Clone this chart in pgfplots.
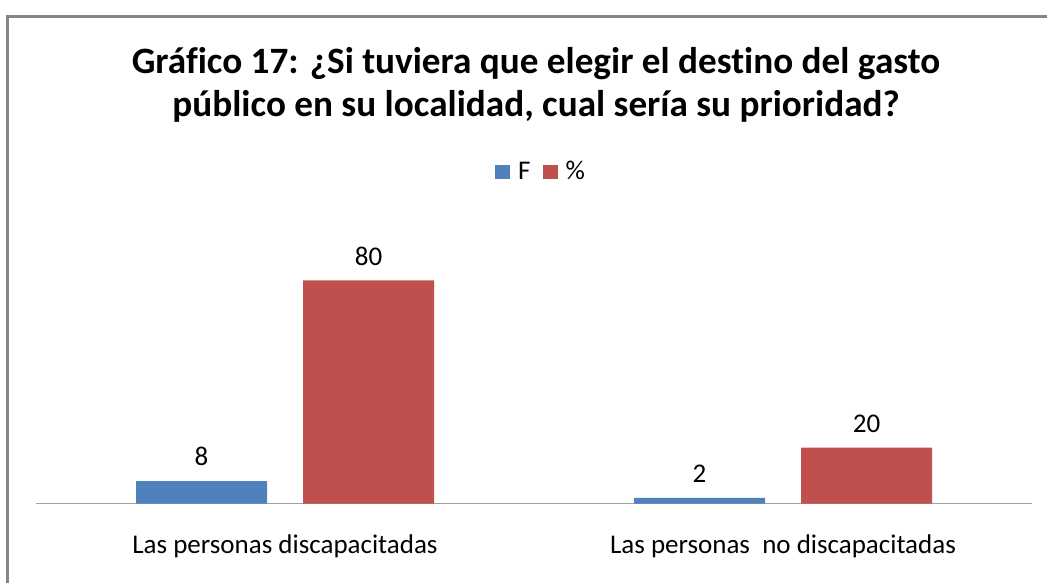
\documentclass[border=0pt]{standalone}
\usepackage{fontspec}
\setmainfont{Carlito}[Ligatures={NoCommon}]
\usepackage{pgfplots}
\pgfplotsset{compat=1.18}
\definecolor{xlblue}{HTML}{4F81BD}
\definecolor{xlred}{HTML}{C0504D}
\definecolor{frame}{HTML}{868686}
\definecolor{axisgray}{HTML}{A0A0A0}
\begin{document}
\begin{tikzpicture}[x=0.5pt,y=0.5pt]
\path[use as bounding box] (0,0) rectangle (1047,583);
\draw[frame,line width=1.1pt] (7.5,0) -- (7.5,566.5) -- (1047,566.5);
\node[font=\fontsize{18.6}{21.5}\selectfont\bfseries,align=center] at (536,498)
  {Gráfico 17: ¿Si tuviera que elegir el destino del gasto\\público en su localidad, cual sería su prioridad?};
\begin{axis}[
  at={(18pt,39.75pt)}, anchor=south west,
  scale only axis, width=498pt, height=139.5pt,
  xmin=-0.5, xmax=1.5, ymin=0, ymax=100,
  axis y line=none, axis x line*=bottom,
  x axis line style={axisgray,line width=0.7pt,-},
  xtick={0,1}, major tick length=0pt,
  xticklabels={Las personas discapacitadas,{Las personas\ \ no discapacitadas}},
  xticklabel style={font=\fontsize{13.5}{16}\selectfont,yshift=-12pt},
  ybar, bar width=65.5pt,
  nodes near coords,
  every node near coord/.append style={font=\fontsize{13.5}{16}\selectfont,black,yshift=4pt},
  /pgf/number format/assume math mode=true,
  legend columns=2,
  legend style={draw=none,fill=none,at={(0.508,1.188)},anchor=center,
    font=\fontsize{13.5}{16}\selectfont,
    /tikz/every odd column/.append style={column sep=2pt},
    /tikz/every even column/.append style={column sep=4pt}},
  legend image code/.code={\fill[#1] (0pt,-3.5pt) rectangle (7.5pt,3.5pt);},
]
\addplot[fill=xlblue,draw=none,bar shift=-41.75pt] coordinates {(0,8) (1,2)};
\addplot[fill=xlred,draw=none,bar shift=41.75pt] coordinates {(0,80) (1,20)};
\legend{F,\%}
\end{axis}
\end{tikzpicture}
\end{document}
